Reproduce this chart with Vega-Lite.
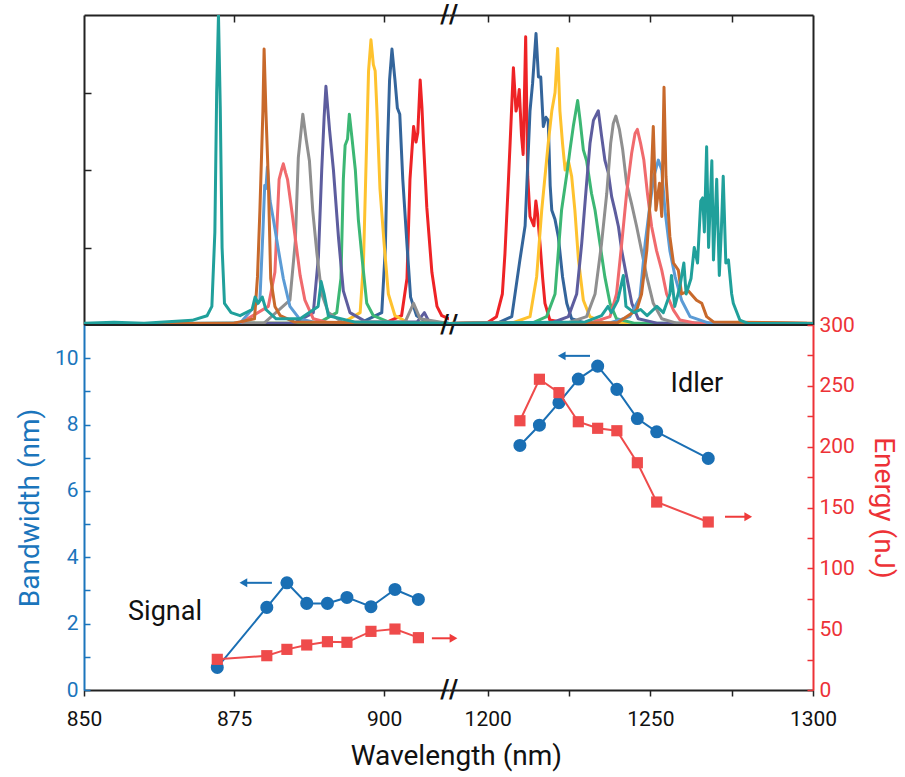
{
"$schema": "https://vega.github.io/schema/vega-lite/v6.json",
"background": "white",
"padding": {"left": 16, "top": 3, "right": 5, "bottom": 5},
"bounds": "flush",
"spacing": 0,
"columns": 2,
"title": {"text": "Wavelength (nm)", "orient": "bottom", "anchor": "middle", "frame": "bounds", "font": "Roboto", "fontSize": 28, "fontWeight": "normal", "color": "#111", "offset": 14},
"config": {
  "view": {"stroke": null},
  "axis": {"labelFont": "Roboto", "titleFont": "Roboto", "labelFontSize": 21, "titleFontSize": 28, "titleFontWeight": "normal", "grid": false, "domainWidth": 2, "tickWidth": 1.5, "labelFlush": false, "labelOverlap": false}
},
"datasets": {
  "spec": [
    {"c":"a","w":850,"i":0.004},{"c":"a","w":900,"i":0.005},{"c":"a","w":902.9,"i":0.03},{"c":"a","w":903.8,"i":0.15},{"c":"a","w":904.3,"i":0.47},{"c":"a","w":904.9,"i":0.64},{"c":"a","w":905.3,"i":0.59},{"c":"a","w":905.6,"i":0.62},{"c":"a","w":906,"i":0.79},{"c":"a","w":906.3,"i":0.7},{"c":"a","w":906.55,"i":0.59},{"c":"a","w":907.1,"i":0.38},{"c":"a","w":907.95,"i":0.17},{"c":"a","w":908.8,"i":0.06},{"c":"a","w":909.6,"i":0.03},{"c":"a","w":910.8,"i":0.02},
    {"c":"a","w":1188.1,"i":0.005},{"c":"a","w":1200,"i":0.008},{"c":"a","w":1202.7,"i":0.027},{"c":"a","w":1204.5,"i":0.1},{"c":"a","w":1205.3,"i":0.23},{"c":"a","w":1206.3,"i":0.45},{"c":"a","w":1206.9,"i":0.59},{"c":"a","w":1207.9,"i":0.83},{"c":"a","w":1208.7,"i":0.69},{"c":"a","w":1209.3,"i":0.72},{"c":"a","w":1209.7,"i":0.76},{"c":"a","w":1210.4,"i":0.61},{"c":"a","w":1210.9,"i":0.55},{"c":"a","w":1211.67,"i":0.93},{"c":"a","w":1212.3,"i":0.48},{"c":"a","w":1213,"i":0.35},{"c":"a","w":1214.2,"i":0.32},{"c":"a","w":1214.8,"i":0.4},{"c":"a","w":1215.3,"i":0.36},{"c":"a","w":1216.1,"i":0.26},{"c":"a","w":1216.9,"i":0.15},{"c":"a","w":1217.6,"i":0.07},{"c":"a","w":1219.1,"i":0.016},{"c":"a","w":1225,"i":0.005},{"c":"a","w":1300,"i":0.005},

    {"c":"b","w":850,"i":0.004},{"c":"b","w":896,"i":0.006},{"c":"b","w":899.6,"i":0.04},{"c":"b","w":900.2,"i":0.25},{"c":"b","w":900.55,"i":0.57},{"c":"b","w":900.9,"i":0.79},{"c":"b","w":901.3,"i":0.89},{"c":"b","w":901.8,"i":0.79},{"c":"b","w":902.2,"i":0.7},{"c":"b","w":902.6,"i":0.68},{"c":"b","w":903.1,"i":0.47},{"c":"b","w":903.8,"i":0.26},{"c":"b","w":904.4,"i":0.09},{"c":"b","w":905.4,"i":0.03},{"c":"b","w":907,"i":0.01},{"c":"b","w":910.8,"i":0.005},
    {"c":"b","w":1188.1,"i":0.005},{"c":"b","w":1203,"i":0.006},{"c":"b","w":1207.4,"i":0.027},{"c":"b","w":1209.9,"i":0.21},{"c":"b","w":1211.5,"i":0.32},{"c":"b","w":1213,"i":0.69},{"c":"b","w":1213.8,"i":0.78},{"c":"b","w":1214.85,"i":0.94},{"c":"b","w":1215.6,"i":0.8},{"c":"b","w":1216.3,"i":0.8},{"c":"b","w":1217.1,"i":0.64},{"c":"b","w":1217.9,"i":0.67},{"c":"b","w":1218.6,"i":0.66},{"c":"b","w":1219.2,"i":0.45},{"c":"b","w":1219.7,"i":0.37},{"c":"b","w":1220.7,"i":0.34},{"c":"b","w":1221.7,"i":0.285},{"c":"b","w":1223,"i":0.156},{"c":"b","w":1224.3,"i":0.07},{"c":"b","w":1225.8,"i":0.02},{"c":"b","w":1230,"i":0.006},{"c":"b","w":1300,"i":0.005},

    {"c":"c","w":850,"i":0.004},{"c":"c","w":893,"i":0.006},{"c":"c","w":896,"i":0.04},{"c":"c","w":896.55,"i":0.2},{"c":"c","w":897,"i":0.53},{"c":"c","w":897.4,"i":0.82},{"c":"c","w":897.8,"i":0.92},{"c":"c","w":898.2,"i":0.84},{"c":"c","w":898.5,"i":0.82},{"c":"c","w":898.8,"i":0.69},{"c":"c","w":899.3,"i":0.44},{"c":"c","w":900,"i":0.26},{"c":"c","w":900.7,"i":0.1},{"c":"c","w":901.8,"i":0.03},{"c":"c","w":904,"i":0.008},{"c":"c","w":910.8,"i":0.005},
    {"c":"c","w":1188.1,"i":0.005},{"c":"c","w":1208,"i":0.008},{"c":"c","w":1213,"i":0.027},{"c":"c","w":1215.05,"i":0.156},{"c":"c","w":1216.6,"i":0.37},{"c":"c","w":1218.6,"i":0.586},{"c":"c","w":1219.7,"i":0.69},{"c":"c","w":1220.7,"i":0.75},{"c":"c","w":1221.5,"i":0.892},{"c":"c","w":1222.2,"i":0.69},{"c":"c","w":1223,"i":0.586},{"c":"c","w":1223.8,"i":0.5},{"c":"c","w":1224.8,"i":0.53},{"c":"c","w":1225.8,"i":0.48},{"c":"c","w":1226.8,"i":0.37},{"c":"c","w":1227.9,"i":0.21},{"c":"c","w":1229.4,"i":0.08},{"c":"c","w":1231.4,"i":0.027},{"c":"c","w":1236,"i":0.006},{"c":"c","w":1300,"i":0.005},

    {"c":"d","w":850,"i":0.004},{"c":"d","w":889,"i":0.006},{"c":"d","w":892.1,"i":0.04},{"c":"d","w":892.8,"i":0.15},{"c":"d","w":893.2,"i":0.47},{"c":"d","w":893.5,"i":0.58},{"c":"d","w":893.9,"i":0.6},{"c":"d","w":894.2,"i":0.68},{"c":"d","w":894.6,"i":0.61},{"c":"d","w":895.2,"i":0.5},{"c":"d","w":895.7,"i":0.34},{"c":"d","w":896.4,"i":0.2},{"c":"d","w":897.1,"i":0.07},{"c":"d","w":898.2,"i":0.03},{"c":"d","w":901,"i":0.008},{"c":"d","w":910.8,"i":0.005},
    {"c":"d","w":1188.1,"i":0.005},{"c":"d","w":1214,"i":0.008},{"c":"d","w":1218.1,"i":0.027},{"c":"d","w":1220.7,"i":0.1},{"c":"d","w":1222.7,"i":0.37},{"c":"d","w":1224.5,"i":0.5},{"c":"d","w":1225.3,"i":0.565},{"c":"d","w":1226.3,"i":0.64},{"c":"d","w":1227.65,"i":0.724},{"c":"d","w":1228.4,"i":0.66},{"c":"d","w":1229.4,"i":0.565},{"c":"d","w":1230.4,"i":0.53},{"c":"d","w":1231.9,"i":0.425},{"c":"d","w":1233,"i":0.37},{"c":"d","w":1234.5,"i":0.263},{"c":"d","w":1236,"i":0.156},{"c":"d","w":1237.6,"i":0.07},{"c":"d","w":1239.6,"i":0.02},{"c":"d","w":1245,"i":0.006},{"c":"d","w":1300,"i":0.005},

    {"c":"e","w":850,"i":0.004},{"c":"e","w":885,"i":0.006},{"c":"e","w":888.2,"i":0.04},{"c":"e","w":889.05,"i":0.22},{"c":"e","w":889.6,"i":0.5},{"c":"e","w":890,"i":0.67},{"c":"e","w":890.3,"i":0.77},{"c":"e","w":890.9,"i":0.63},{"c":"e","w":891.55,"i":0.5},{"c":"e","w":892.4,"i":0.28},{"c":"e","w":893.2,"i":0.11},{"c":"e","w":894.3,"i":0.04},{"c":"e","w":897,"i":0.01},{"c":"e","w":905.5,"i":0.01},{"c":"e","w":906.7,"i":0.04},{"c":"e","w":907.5,"i":0.01},{"c":"e","w":910.8,"i":0.005},
    {"c":"e","w":1188.1,"i":0.005},{"c":"e","w":1220,"i":0.008},{"c":"e","w":1224.8,"i":0.027},{"c":"e","w":1227.35,"i":0.1},{"c":"e","w":1228.9,"i":0.263},{"c":"e","w":1230.4,"i":0.457},{"c":"e","w":1231.45,"i":0.586},{"c":"e","w":1232.5,"i":0.66},{"c":"e","w":1234,"i":0.691},{"c":"e","w":1235,"i":0.61},{"c":"e","w":1236.05,"i":0.53},{"c":"e","w":1237.1,"i":0.49},{"c":"e","w":1238.1,"i":0.414},{"c":"e","w":1239.1,"i":0.37},{"c":"e","w":1240.2,"i":0.317},{"c":"e","w":1241.2,"i":0.24},{"c":"e","w":1242.7,"i":0.156},{"c":"e","w":1244.3,"i":0.07},{"c":"e","w":1246.3,"i":0.02},{"c":"e","w":1252,"i":0.006},{"c":"e","w":1300,"i":0.005},

    {"c":"f","w":850,"i":0.004},{"c":"f","w":880,"i":0.006},{"c":"f","w":884.3,"i":0.08},{"c":"f","w":885.2,"i":0.27},{"c":"f","w":885.7,"i":0.54},{"c":"f","w":886.45,"i":0.68},{"c":"f","w":887,"i":0.6},{"c":"f","w":887.55,"i":0.53},{"c":"f","w":888.1,"i":0.37},{"c":"f","w":888.8,"i":0.23},{"c":"f","w":889.6,"i":0.1},{"c":"f","w":890.7,"i":0.04},{"c":"f","w":893,"i":0.01},{"c":"f","w":903.5,"i":0.01},{"c":"f","w":904.9,"i":0.07},{"c":"f","w":906,"i":0.02},{"c":"f","w":910.8,"i":0.005},
    {"c":"f","w":1188.1,"i":0.005},{"c":"f","w":1225,"i":0.008},{"c":"f","w":1230.4,"i":0.027},{"c":"f","w":1233,"i":0.1},{"c":"f","w":1235,"i":0.263},{"c":"f","w":1236.6,"i":0.425},{"c":"f","w":1237.8,"i":0.586},{"c":"f","w":1238.6,"i":0.65},{"c":"f","w":1239.4,"i":0.674},{"c":"f","w":1240.5,"i":0.63},{"c":"f","w":1241.5,"i":0.565},{"c":"f","w":1242.7,"i":0.457},{"c":"f","w":1244.25,"i":0.39},{"c":"f","w":1245.8,"i":0.317},{"c":"f","w":1247.3,"i":0.24},{"c":"f","w":1248.9,"i":0.156},{"c":"f","w":1250.9,"i":0.07},{"c":"f","w":1253.5,"i":0.02},{"c":"f","w":1258,"i":0.006},{"c":"f","w":1300,"i":0.005},

    {"c":"g","w":850,"i":0.004},{"c":"g","w":876,"i":0.006},{"c":"g","w":880.7,"i":0.06},{"c":"g","w":881.8,"i":0.17},{"c":"g","w":882.5,"i":0.47},{"c":"g","w":882.9,"i":0.5},{"c":"g","w":883.2,"i":0.52},{"c":"g","w":883.6,"i":0.49},{"c":"g","w":883.9,"i":0.47},{"c":"g","w":884.6,"i":0.37},{"c":"g","w":885.2,"i":0.28},{"c":"g","w":886,"i":0.16},{"c":"g","w":886.8,"i":0.08},{"c":"g","w":888.2,"i":0.02},{"c":"g","w":891,"i":0.006},{"c":"g","w":910.8,"i":0.005},
    {"c":"g","w":1188.1,"i":0.005},{"c":"g","w":1232,"i":0.008},{"c":"g","w":1237.6,"i":0.027},{"c":"g","w":1239.6,"i":0.1},{"c":"g","w":1241.2,"i":0.263},{"c":"g","w":1242.7,"i":0.425},{"c":"g","w":1244.25,"i":0.554},{"c":"g","w":1245.3,"i":0.618},{"c":"g","w":1246,"i":0.631},{"c":"g","w":1247,"i":0.586},{"c":"g","w":1248,"i":0.532},{"c":"g","w":1249.1,"i":0.425},{"c":"g","w":1250.4,"i":0.317},{"c":"g","w":1251.9,"i":0.24},{"c":"g","w":1253.5,"i":0.177},{"c":"g","w":1255,"i":0.1},{"c":"g","w":1257.1,"i":0.048},{"c":"g","w":1259.1,"i":0.016},{"c":"g","w":1264,"i":0.006},{"c":"g","w":1300,"i":0.005},

    {"c":"h","w":850,"i":0.004},{"c":"h","w":876,"i":0.006},{"c":"h","w":879.3,"i":0.08},{"c":"h","w":879.8,"i":0.3},{"c":"h","w":880.1,"i":0.45},{"c":"h","w":880.3,"i":0.44},{"c":"h","w":880.55,"i":0.51},{"c":"h","w":881,"i":0.4},{"c":"h","w":881.55,"i":0.34},{"c":"h","w":882.4,"i":0.24},{"c":"h","w":883.2,"i":0.15},{"c":"h","w":884.3,"i":0.06},{"c":"h","w":885.9,"i":0.02},{"c":"h","w":889,"i":0.006},{"c":"h","w":910.8,"i":0.005},
    {"c":"h","w":1188.1,"i":0.005},{"c":"h","w":1238,"i":0.008},{"c":"h","w":1243.7,"i":0.027},{"c":"h","w":1246.8,"i":0.09},{"c":"h","w":1248.4,"i":0.263},{"c":"h","w":1249.9,"i":0.39},{"c":"h","w":1251.1,"i":0.48},{"c":"h","w":1252.45,"i":0.532},{"c":"h","w":1253.5,"i":0.5},{"c":"h","w":1254.5,"i":0.37},{"c":"h","w":1256,"i":0.24},{"c":"h","w":1257.6,"i":0.156},{"c":"h","w":1259.6,"i":0.08},{"c":"h","w":1262.2,"i":0.027},{"c":"h","w":1268,"i":0.006},{"c":"h","w":1300,"i":0.005},

    {"c":"i","w":850,"i":0.004},{"c":"i","w":875,"i":0.006},{"c":"i","w":878.4,"i":0.02},{"c":"i","w":878.9,"i":0.156},{"c":"i","w":879.3,"i":0.37},{"c":"i","w":879.8,"i":0.69},{"c":"i","w":880,"i":0.89},{"c":"i","w":880.3,"i":0.69},{"c":"i","w":880.7,"i":0.47},{"c":"i","w":881.1,"i":0.15},{"c":"i","w":881.8,"i":0.06},{"c":"i","w":882.7,"i":0.03},{"c":"i","w":885,"i":0.01},{"c":"i","w":910.8,"i":0.005},
    {"c":"i","w":1188.1,"i":0.005},{"c":"i","w":1240,"i":0.008},{"c":"i","w":1245.8,"i":0.048},{"c":"i","w":1247.3,"i":0.1},{"c":"i","w":1248.9,"i":0.24},{"c":"i","w":1250.1,"i":0.425},{"c":"i","w":1250.9,"i":0.64},{"c":"i","w":1251.7,"i":0.37},{"c":"i","w":1252.8,"i":0.457},{"c":"i","w":1253.5,"i":0.35},{"c":"i","w":1254.2,"i":0.767},{"c":"i","w":1254.8,"i":0.48},{"c":"i","w":1256,"i":0.285},{"c":"i","w":1257.1,"i":0.2},{"c":"i","w":1258.6,"i":0.177},{"c":"i","w":1259.6,"i":0.1},{"c":"i","w":1261.7,"i":0.11},{"c":"i","w":1264.2,"i":0.08},{"c":"i","w":1265.8,"i":0.07},{"c":"i","w":1267.3,"i":0.027},{"c":"i","w":1269.4,"i":0.01},{"c":"i","w":1300,"i":0.006},

    {"c":"j","w":850,"i":0.006},{"c":"j","w":855,"i":0.009},{"c":"j","w":860,"i":0.006},{"c":"j","w":868,"i":0.015},{"c":"j","w":870.5,"i":0.03},{"c":"j","w":871.3,"i":0.06},{"c":"j","w":871.8,"i":0.3},{"c":"j","w":872.1,"i":0.75},{"c":"j","w":872.4,"i":1.0},{"c":"j","w":872.7,"i":0.7},{"c":"j","w":873,"i":0.25},{"c":"j","w":873.4,"i":0.07},{"c":"j","w":874.5,"i":0.04},{"c":"j","w":876,"i":0.03},{"c":"j","w":878,"i":0.05},{"c":"j","w":878.5,"i":0.09},{"c":"j","w":879,"i":0.07},{"c":"j","w":879.7,"i":0.09},{"c":"j","w":880.3,"i":0.05},{"c":"j","w":882,"i":0.02},{"c":"j","w":886,"i":0.02},{"c":"j","w":889,"i":0.06},{"c":"j","w":889.5,"i":0.14},{"c":"j","w":890,"i":0.1},{"c":"j","w":890.7,"i":0.03},{"c":"j","w":895,"i":0.01},{"c":"j","w":910.8,"i":0.006},
    {"c":"j","w":1188.1,"i":0.005},{"c":"j","w":1230,"i":0.01},{"c":"j","w":1235,"i":0.03},{"c":"j","w":1237,"i":0.06},{"c":"j","w":1238,"i":0.04},{"c":"j","w":1240,"i":0.08},{"c":"j","w":1241.7,"i":0.16},{"c":"j","w":1242.5,"i":0.06},{"c":"j","w":1245,"i":0.04},{"c":"j","w":1247,"i":0.05},{"c":"j","w":1249,"i":0.03},{"c":"j","w":1252,"i":0.06},{"c":"j","w":1254,"i":0.04},{"c":"j","w":1256,"i":0.1},{"c":"j","w":1256.5,"i":0.16},{"c":"j","w":1257.5,"i":0.06},{"c":"j","w":1259,"i":0.12},{"c":"j","w":1260.3,"i":0.2},{"c":"j","w":1261,"i":0.1},{"c":"j","w":1262.5,"i":0.15},{"c":"j","w":1263.5,"i":0.25},{"c":"j","w":1264.5,"i":0.2},{"c":"j","w":1265.5,"i":0.4},{"c":"j","w":1266.1,"i":0.41},{"c":"j","w":1266.6,"i":0.3},{"c":"j","w":1267.3,"i":0.575},{"c":"j","w":1267.9,"i":0.25},{"c":"j","w":1268.9,"i":0.53},{"c":"j","w":1269.4,"i":0.21},{"c":"j","w":1270.4,"i":0.47},{"c":"j","w":1271.2,"i":0.16},{"c":"j","w":1271.8,"i":0.3},{"c":"j","w":1272.4,"i":0.48},{"c":"j","w":1273.2,"i":0.2},{"c":"j","w":1274,"i":0.21},{"c":"j","w":1275,"i":0.1},{"c":"j","w":1275.5,"i":0.07},{"c":"j","w":1277.5,"i":0.016},{"c":"j","w":1280,"i":0.005},{"c":"j","w":1300,"i":0.005}
  ],
  "pts": [
    {"g":"signal","w":872.2,"bw":0.68,"e":25.2},
    {"g":"signal","w":880.45,"bw":2.49,"e":28.2},
    {"g":"signal","w":883.8,"bw":3.23,"e":33.4},
    {"g":"signal","w":887.1,"bw":2.61,"e":37.0},
    {"g":"signal","w":890.55,"bw":2.61,"e":39.7},
    {"g":"signal","w":893.8,"bw":2.79,"e":39.2},
    {"g":"signal","w":897.8,"bw":2.51,"e":48.2},
    {"g":"signal","w":901.8,"bw":3.03,"e":50.1},
    {"g":"signal","w":905.7,"bw":2.73,"e":43.0},
    {"g":"idler","w":1209.9,"bw":7.37,"e":221.3},
    {"g":"idler","w":1215.9,"bw":7.98,"e":255.4},
    {"g":"idler","w":1221.9,"bw":8.66,"e":244.4},
    {"g":"idler","w":1227.85,"bw":9.37,"e":220.5},
    {"g":"idler","w":1233.8,"bw":9.76,"e":215.1},
    {"g":"idler","w":1239.7,"bw":9.06,"e":213.1},
    {"g":"idler","w":1246.0,"bw":8.18,"e":186.8},
    {"g":"idler","w":1251.95,"bw":7.78,"e":154.5},
    {"g":"idler","w":1267.8,"bw":6.98,"e":138.1}
  ],
  "arr": [
    {"g":"signal","v":"bw","x1":876.55,"x2":881.3,"y":3.23},
    {"g":"signal","v":"e","x1":907.95,"x2":911.55,"y":42.5},
    {"g":"idler","v":"bw","x1":1222.75,"x2":1231.45,"y":10.07},
    {"g":"idler","v":"e","x1":1272.95,"x2":1280.1,"y":142.4}
  ],
  "lbl": [
    {"g":"signal","t":"Signal","w":863.5,"bw":2.35},
    {"g":"idler","t":"Idler","w":1264.3,"bw":9.22}
  ]
},
"concat": [
  {
    "width": 365, "height": 310,
    "resolve": {"axis": {"x": "independent", "y": "independent"}},
    "layer": [
      {
        "data": {"name": "spec"},
        "transform": [{"filter": "datum.w < 1000"}],
        "mark": {"type": "line", "strokeWidth": 3, "clip": true, "strokeJoin": "round", "strokeCap": "round"},
        "encoding": {
          "x": {"field": "w", "type": "quantitative", "scale": {"domain": [850, 910.8], "nice": false, "zero": false},
                "axis": {"orient": "top", "values": [875, 900], "tickSize": -7, "labels": false, "title": null, "domainColor": "#222", "tickColor": "#222"}},
          "y": {"field": "i", "type": "quantitative", "scale": {"domain": [0, 1], "nice": false, "zero": false},
                "axis": {"orient": "left", "values": [0.25, 0.5, 0.75], "tickSize": -7, "labels": false, "title": null, "domainColor": "#222", "tickColor": "#222"}},
          "color": {"field": "c", "type": "nominal", "legend": null,
                    "scale": {"domain": ["a","b","c","d","e","f","g","h","i","j"], "range": ["#ee2326","#34659b","#fec22e","#3cb774","#5d5d9e","#8f8f8f","#f06a6d","#5b9bd5","#c8692b","#20a09b"]}}
        }
      },
      {
        "data": {"values": [{"v": 0}]},
        "mark": {"type": "rule", "color": "#222", "strokeWidth": 2},
        "encoding": {"y": {"field": "v", "type": "quantitative", "scale": {"domain": [0, 1], "nice": false, "zero": false}, "axis": null}}
      },
      {
        "data": {"values": [{"t": "//", "w": 910.8, "v": 0}, {"t": "//", "w": 910.8, "v": 1}]},
        "mark": {"type": "text", "fontSize": 24, "fontWeight": "bold", "font": "DejaVu Sans", "color": "#111"},
        "encoding": {
          "x": {"field": "w", "type": "quantitative", "scale": {"domain": [850, 910.8], "nice": false, "zero": false}, "axis": null},
          "y": {"field": "v", "type": "quantitative", "scale": {"domain": [0, 1], "nice": false, "zero": false}, "axis": null},
          "text": {"field": "t"}
        }
      }
    ]
  },
  {
    "width": 364, "height": 310,
    "resolve": {"axis": {"x": "independent", "y": "independent"}},
    "layer": [
      {
        "data": {"name": "spec"},
        "transform": [{"filter": "datum.w > 1000"}],
        "mark": {"type": "line", "strokeWidth": 3, "clip": true, "strokeJoin": "round", "strokeCap": "round"},
        "encoding": {
          "x": {"field": "w", "type": "quantitative", "scale": {"domain": [1188.1, 1300], "nice": false, "zero": false},
                "axis": {"orient": "top", "values": [1200, 1225, 1250, 1275], "tickSize": -7, "labels": false, "title": null, "domainColor": "#222", "tickColor": "#222"}},
          "y": {"field": "i", "type": "quantitative", "scale": {"domain": [0, 1], "nice": false, "zero": false},
                "axis": {"orient": "right", "ticks": false, "labels": false, "title": null, "domainColor": "#222"}},
          "color": {"field": "c", "type": "nominal", "legend": null,
                    "scale": {"domain": ["a","b","c","d","e","f","g","h","i","j"], "range": ["#ee2326","#34659b","#fec22e","#3cb774","#5d5d9e","#8f8f8f","#f06a6d","#5b9bd5","#c8692b","#20a09b"]}}
        }
      },
      {
        "data": {"values": [{"v": 0}]},
        "mark": {"type": "rule", "color": "#222", "strokeWidth": 2},
        "encoding": {"y": {"field": "v", "type": "quantitative", "scale": {"domain": [0, 1], "nice": false, "zero": false}, "axis": null}}
      }
    ]
  },
  {
    "width": 365, "height": 365,
    "resolve": {"scale": {"y": "independent"}, "axis": {"x": "independent", "y": "independent"}},
    "layer": [
      {
        "data": {"name": "pts"},
        "transform": [{"filter": "datum.g === 'signal'"}],
        "mark": {"type": "line", "color": "#1a6fb4", "strokeWidth": 2},
        "encoding": {
          "x": {"field": "w", "type": "quantitative", "scale": {"domain": [850, 910.8], "nice": false, "zero": false},
                "axis": {"orient": "bottom", "values": [850, 875, 900], "format": "d", "tickSize": 6, "labelPadding": 12, "title": null, "domainColor": "#222", "tickColor": "#222", "labelColor": "#111"}},
          "y": {"field": "bw", "type": "quantitative", "scale": {"domain": [0, 11], "nice": false, "zero": false},
                "axis": {"orient": "left", "values": [0,1,2,3,4,5,6,7,8,9,10], "labelExpr": "datum.value % 2 === 0 ? datum.label : ''", "tickSize": -6, "labelPadding": 12, "title": "Bandwidth (nm)", "titlePadding": 10, "titleColor": "#1b75bc", "labelColor": "#1b75bc", "domainColor": "#1b75bc", "tickColor": "#1b75bc"}}
        }
      },
      {
        "data": {"name": "pts"},
        "transform": [{"filter": "datum.g === 'signal'"}],
        "mark": {"type": "point", "shape": "circle", "filled": true, "size": 170, "opacity": 1, "color": "#1a6fb4"},
        "encoding": {
          "x": {"field": "w", "type": "quantitative", "scale": {"domain": [850, 910.8], "nice": false, "zero": false}, "axis": null},
          "y": {"field": "bw", "type": "quantitative", "scale": {"domain": [0, 11], "nice": false, "zero": false}, "axis": null}
        }
      },
      {
        "data": {"name": "pts"},
        "transform": [{"filter": "datum.g === 'signal'"}],
        "mark": {"type": "line", "color": "#ef4b4b", "strokeWidth": 2},
        "encoding": {
          "x": {"field": "w", "type": "quantitative", "scale": {"domain": [850, 910.8], "nice": false, "zero": false}, "axis": null},
          "y": {"field": "e", "type": "quantitative", "scale": {"domain": [0, 300], "nice": false, "zero": false}, "axis": null}
        }
      },
      {
        "data": {"name": "pts"},
        "transform": [{"filter": "datum.g === 'signal'"}],
        "mark": {"type": "point", "shape": "square", "filled": true, "size": 125, "opacity": 1, "color": "#ef4b4b"},
        "encoding": {
          "x": {"field": "w", "type": "quantitative", "scale": {"domain": [850, 910.8], "nice": false, "zero": false}, "axis": null},
          "y": {"field": "e", "type": "quantitative", "scale": {"domain": [0, 300], "nice": false, "zero": false}, "axis": null}
        }
      },
      {
        "data": {"name": "arr"},
        "transform": [{"filter": "datum.g === 'signal' && datum.v === 'bw'"}],
        "mark": {"type": "rule", "color": "#1a6fb4", "strokeWidth": 2},
        "encoding": {
          "x": {"field": "x1", "type": "quantitative", "scale": {"domain": [850, 910.8], "nice": false, "zero": false}, "axis": null},
          "x2": {"field": "x2"},
          "y": {"field": "y", "type": "quantitative", "scale": {"domain": [0, 11], "nice": false, "zero": false}, "axis": null}
        }
      },
      {
        "data": {"name": "arr"},
        "transform": [{"filter": "datum.g === 'signal' && datum.v === 'bw'"}],
        "mark": {"type": "point", "shape": "triangle-left", "filled": true, "size": 80, "opacity": 1, "color": "#1a6fb4"},
        "encoding": {
          "x": {"field": "x1", "type": "quantitative", "scale": {"domain": [850, 910.8], "nice": false, "zero": false}, "axis": null},
          "y": {"field": "y", "type": "quantitative", "scale": {"domain": [0, 11], "nice": false, "zero": false}, "axis": null}
        }
      },
      {
        "data": {"name": "arr"},
        "transform": [{"filter": "datum.g === 'signal' && datum.v === 'e'"}],
        "mark": {"type": "rule", "color": "#ef3b3b", "strokeWidth": 2},
        "encoding": {
          "x": {"field": "x1", "type": "quantitative", "scale": {"domain": [850, 910.8], "nice": false, "zero": false}, "axis": null},
          "x2": {"field": "x2"},
          "y": {"field": "y", "type": "quantitative", "scale": {"domain": [0, 300], "nice": false, "zero": false}, "axis": null}
        }
      },
      {
        "data": {"name": "arr"},
        "transform": [{"filter": "datum.g === 'signal' && datum.v === 'e'"}],
        "mark": {"type": "point", "shape": "triangle-right", "filled": true, "size": 80, "opacity": 1, "color": "#ef3b3b"},
        "encoding": {
          "x": {"field": "x2", "type": "quantitative", "scale": {"domain": [850, 910.8], "nice": false, "zero": false}, "axis": null},
          "y": {"field": "y", "type": "quantitative", "scale": {"domain": [0, 300], "nice": false, "zero": false}, "axis": null}
        }
      },
      {
        "data": {"name": "lbl"},
        "transform": [{"filter": "datum.g === 'signal'"}],
        "mark": {"type": "text", "font": "Roboto", "fontSize": 27, "color": "#111"},
        "encoding": {
          "x": {"field": "w", "type": "quantitative", "scale": {"domain": [850, 910.8], "nice": false, "zero": false}, "axis": null},
          "y": {"field": "bw", "type": "quantitative", "scale": {"domain": [0, 11], "nice": false, "zero": false}, "axis": null},
          "text": {"field": "t"}
        }
      },
      {
        "data": {"values": [{"t": "//", "w": 910.8, "v": 0}]},
        "mark": {"type": "text", "fontSize": 24, "fontWeight": "bold", "font": "DejaVu Sans", "color": "#111"},
        "encoding": {
          "x": {"field": "w", "type": "quantitative", "scale": {"domain": [850, 910.8], "nice": false, "zero": false}, "axis": null},
          "y": {"field": "v", "type": "quantitative", "scale": {"domain": [0, 11], "nice": false, "zero": false}, "axis": null},
          "text": {"field": "t"}
        }
      }
    ]
  },
  {
    "width": 364, "height": 365,
    "resolve": {"scale": {"y": "independent"}, "axis": {"x": "independent", "y": "independent"}},
    "layer": [
      {
        "data": {"name": "pts"},
        "transform": [{"filter": "datum.g === 'idler'"}],
        "mark": {"type": "line", "color": "#1a6fb4", "strokeWidth": 2},
        "encoding": {
          "x": {"field": "w", "type": "quantitative", "scale": {"domain": [1188.1, 1300], "nice": false, "zero": false},
                "axis": {"orient": "bottom", "values": [1200, 1225, 1250, 1275, 1300], "format": "d", "labelExpr": "datum.value % 50 === 0 ? datum.label : ''", "tickSize": 6, "labelPadding": 12, "title": null, "domainColor": "#222", "tickColor": "#222", "labelColor": "#111"}},
          "y": {"field": "bw", "type": "quantitative", "scale": {"domain": [0, 11], "nice": false, "zero": false}, "axis": null}
        }
      },
      {
        "data": {"name": "pts"},
        "transform": [{"filter": "datum.g === 'idler'"}],
        "mark": {"type": "point", "shape": "circle", "filled": true, "size": 170, "opacity": 1, "color": "#1a6fb4"},
        "encoding": {
          "x": {"field": "w", "type": "quantitative", "scale": {"domain": [1188.1, 1300], "nice": false, "zero": false}, "axis": null},
          "y": {"field": "bw", "type": "quantitative", "scale": {"domain": [0, 11], "nice": false, "zero": false}, "axis": null}
        }
      },
      {
        "data": {"name": "pts"},
        "transform": [{"filter": "datum.g === 'idler'"}],
        "mark": {"type": "line", "color": "#ef4b4b", "strokeWidth": 2},
        "encoding": {
          "x": {"field": "w", "type": "quantitative", "scale": {"domain": [1188.1, 1300], "nice": false, "zero": false}, "axis": null},
          "y": {"field": "e", "type": "quantitative", "scale": {"domain": [0, 300], "nice": false, "zero": false},
                "axis": {"orient": "right", "values": [0,25,50,75,100,125,150,175,200,225,250,275,300], "labelExpr": "datum.value % 50 === 0 ? datum.label : ''", "tickSize": -6, "labelPadding": 12, "title": "Energy (nJ)", "titlePadding": 14, "titleColor": "#ed3237", "labelColor": "#ed3237", "domainColor": "#ed3237", "tickColor": "#ed3237"}}
        }
      },
      {
        "data": {"name": "pts"},
        "transform": [{"filter": "datum.g === 'idler'"}],
        "mark": {"type": "point", "shape": "square", "filled": true, "size": 125, "opacity": 1, "color": "#ef4b4b"},
        "encoding": {
          "x": {"field": "w", "type": "quantitative", "scale": {"domain": [1188.1, 1300], "nice": false, "zero": false}, "axis": null},
          "y": {"field": "e", "type": "quantitative", "scale": {"domain": [0, 300], "nice": false, "zero": false}, "axis": null}
        }
      },
      {
        "data": {"name": "arr"},
        "transform": [{"filter": "datum.g === 'idler' && datum.v === 'bw'"}],
        "mark": {"type": "rule", "color": "#1a6fb4", "strokeWidth": 2},
        "encoding": {
          "x": {"field": "x1", "type": "quantitative", "scale": {"domain": [1188.1, 1300], "nice": false, "zero": false}, "axis": null},
          "x2": {"field": "x2"},
          "y": {"field": "y", "type": "quantitative", "scale": {"domain": [0, 11], "nice": false, "zero": false}, "axis": null}
        }
      },
      {
        "data": {"name": "arr"},
        "transform": [{"filter": "datum.g === 'idler' && datum.v === 'bw'"}],
        "mark": {"type": "point", "shape": "triangle-left", "filled": true, "size": 80, "opacity": 1, "color": "#1a6fb4"},
        "encoding": {
          "x": {"field": "x1", "type": "quantitative", "scale": {"domain": [1188.1, 1300], "nice": false, "zero": false}, "axis": null},
          "y": {"field": "y", "type": "quantitative", "scale": {"domain": [0, 11], "nice": false, "zero": false}, "axis": null}
        }
      },
      {
        "data": {"name": "arr"},
        "transform": [{"filter": "datum.g === 'idler' && datum.v === 'e'"}],
        "mark": {"type": "rule", "color": "#ef3b3b", "strokeWidth": 2},
        "encoding": {
          "x": {"field": "x1", "type": "quantitative", "scale": {"domain": [1188.1, 1300], "nice": false, "zero": false}, "axis": null},
          "x2": {"field": "x2"},
          "y": {"field": "y", "type": "quantitative", "scale": {"domain": [0, 300], "nice": false, "zero": false}, "axis": null}
        }
      },
      {
        "data": {"name": "arr"},
        "transform": [{"filter": "datum.g === 'idler' && datum.v === 'e'"}],
        "mark": {"type": "point", "shape": "triangle-right", "filled": true, "size": 80, "opacity": 1, "color": "#ef3b3b"},
        "encoding": {
          "x": {"field": "x2", "type": "quantitative", "scale": {"domain": [1188.1, 1300], "nice": false, "zero": false}, "axis": null},
          "y": {"field": "y", "type": "quantitative", "scale": {"domain": [0, 300], "nice": false, "zero": false}, "axis": null}
        }
      },
      {
        "data": {"name": "lbl"},
        "transform": [{"filter": "datum.g === 'idler'"}],
        "mark": {"type": "text", "font": "Roboto", "fontSize": 27, "color": "#111"},
        "encoding": {
          "x": {"field": "w", "type": "quantitative", "scale": {"domain": [1188.1, 1300], "nice": false, "zero": false}, "axis": null},
          "y": {"field": "bw", "type": "quantitative", "scale": {"domain": [0, 11], "nice": false, "zero": false}, "axis": null},
          "text": {"field": "t"}
        }
      }
    ]
  }
]
}
